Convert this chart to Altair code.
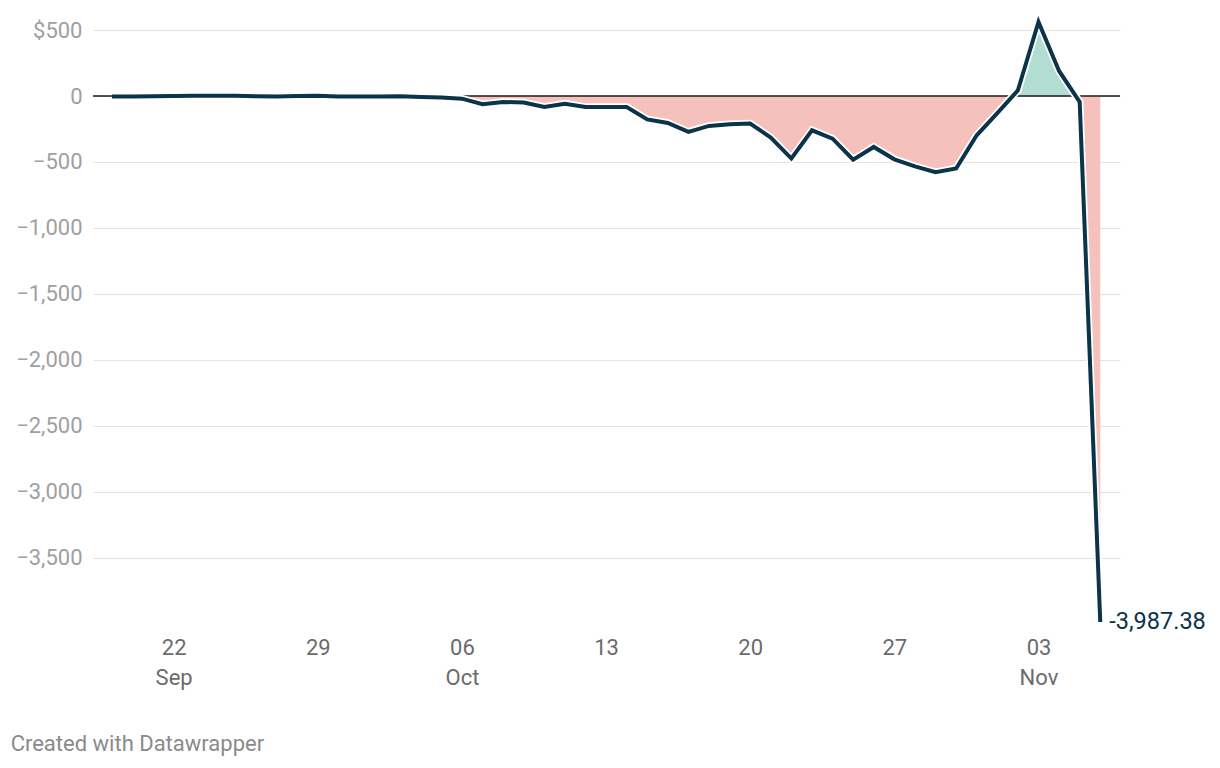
import altair as alt
import pandas as pd
import numpy as np

# ---- data ----
start_date = "2024-09-19"
end_date = "2024-11-06"
values = [-3, -3, -2, 0, 1, 2, 1, -2, -4, 0, 1, -3,
          -4, -3, -2, -8, -12, -20, -62, -45, -50, -83, -58, -83, -83, -83,
          -177, -204, -272, -227, -214, -209, -315, -474, -260, -323, -482,
          -386, -480, -533, -578, -550, -298,
          -130, 43, 561, 190, -45, -3987.38]
x_tick_dates = ["2024-09-22", "2024-09-29", "2024-10-06", "2024-10-13",
                "2024-10-20", "2024-10-27", "2024-11-03"]
y_tick_values = [500, 0, -500, -1000, -1500, -2000, -2500, -3000, -3500]
x_domain = ["2024-09-18T02:00:00", "2024-11-06T23:00:00"]

NAVY = "#0b3349"
PINK = "#f5c1bc"
GREEN = "#b2ddd2"
FONT = "Roboto"


def ms(s):
    return int(pd.Timestamp(s, tz="UTC").value // 10**6)


dates = pd.date_range(start_date, end_date, freq="D", tz="UTC")
t = [int(d.value // 10**6) for d in dates]
df = pd.DataFrame({"t": t, "v": values})

# area data with zero crossings inserted
rows = []
for i in range(len(t)):
    if i > 0:
        v0, v1 = values[i - 1], values[i]
        if (v0 > 0 and v1 < 0) or (v0 < 0 and v1 > 0):
            f = v0 / (v0 - v1)
            rows.append({"t": t[i - 1] + f * (t[i] - t[i - 1]), "v": 0.0})
    rows.append({"t": t[i], "v": float(values[i])})
adf = pd.DataFrame(rows)
adf["pos"] = adf["v"].clip(lower=0)
adf["neg"] = adf["v"].clip(upper=0)

last = df.tail(1).copy()
last["label"] = last["v"].map(lambda v: f"{v:,.2f}")

x_ticks = [ms(d) for d in x_tick_dates]
first_tick = x_ticks[0]

xscale = alt.Scale(type="utc", domain=[ms(x_domain[0]), ms(x_domain[1])])
yscale = alt.Scale(domain=[min(values), max(values)], nice=False, zero=False)

xaxis = alt.Axis(
    values=x_ticks, title=None, grid=False, domain=False, ticks=False,
    labelExpr=f"[utcFormat(datum.value, '%d'), (utcdate(datum.value) <= 7 || time(datum.value) == {first_tick}) ? utcFormat(datum.value, '%b') : '']",
    labelFont=FONT, labelFontSize=22, labelColor="#6b6b6b", labelPadding=15,
    labelLineHeight=30, labelBaseline="top",
)
yaxis = alt.Axis(
    values=y_tick_values, title=None, domain=False, ticks=False,
    labelExpr="datum.value == 500 ? '$500' : replace(format(datum.value, ','), '-', '\u2212')",
    labelFont=FONT, labelFontSize=22, labelColor="#a0a0a0", labelPadding=11,
    gridColor="#e3e3e3", gridWidth=1,
)

neg_area = alt.Chart(adf).mark_area(color=PINK, opacity=1).encode(
    x=alt.X("t:T", scale=xscale, axis=xaxis),
    y=alt.Y("neg:Q", scale=yscale, axis=yaxis),
    y2=alt.datum(0),
)
pos_area = alt.Chart(adf).mark_area(color=GREEN, opacity=1).encode(
    x=alt.X("t:T", scale=xscale),
    y=alt.Y("pos:Q", scale=yscale),
    y2=alt.datum(0),
)
zero = alt.Chart(pd.DataFrame({"z": [0]})).mark_rule(color="#1a1a1a", strokeWidth=1.5).encode(
    y=alt.Y("z:Q", scale=yscale)
)
halo = alt.Chart(df).mark_line(color="white", strokeWidth=7.5, strokeJoin="miter").encode(
    x=alt.X("t:T", scale=xscale), y=alt.Y("v:Q", scale=yscale)
)
line = alt.Chart(df).mark_line(color=NAVY, strokeWidth=4, strokeJoin="miter").encode(
    x=alt.X("t:T", scale=xscale), y=alt.Y("v:Q", scale=yscale)
)
label = alt.Chart(last).mark_text(
    align="left", baseline="middle", dx=9, font=FONT, fontSize=23.5, color=NAVY
).encode(x=alt.X("t:T", scale=xscale), y=alt.Y("v:Q", scale=yscale), text="label:N")

chart = alt.layer(neg_area, pos_area, zero, halo, line, label).properties(
    width=1027,
    height=600,
    padding={"left": 85, "top": 14, "right": 90, "bottom": 145},
    autosize=alt.AutoSizeParams(type="none"),
    title=alt.TitleParams(
        "Created with Datawrapper", orient="bottom", anchor="start", frame="bounds",
        font=FONT, fontSize=22, fontWeight="normal", color="#8a8a8a", offset=46, dx=-5,
    ),
).configure_view(stroke=None)

chart.save("out.html", embed_options={"renderer": "svg", "actions": False})
